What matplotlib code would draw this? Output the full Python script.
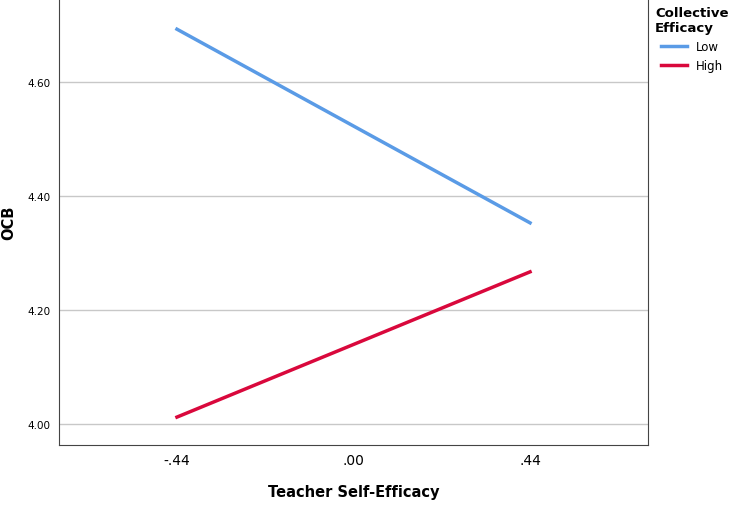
import matplotlib
matplotlib.use("Agg")
import matplotlib.pyplot as plt

x_vals = [-0.44, 0.44]
x_labels = ["-.44", ".00", ".44"]
low = [4.693, 4.353]
high = [4.012, 4.267]
y_ticks = [4.00, 4.20, 4.40, 4.60]

fig = plt.figure(figsize=(7.34, 5.06), dpi=100)
ax = fig.add_axes([59/734, 60/506, (648-59)/734, 446/506])
ax.plot(x_vals, low, color="#5a9be6", lw=2.5, label="Low")
ax.plot(x_vals, high, color="#d9083c", lw=2.5, label="High")
ax.set_xlim(-0.734, 0.734)
ax.set_ylim(3.963, 4.746)
ax.set_xticks([-0.44, 0, 0.44])
ax.set_xticklabels(x_labels, fontsize=10)
ax.set_yticks(y_ticks)
ax.set_yticklabels([f"{v:.2f}" for v in y_ticks], fontsize=7.5)
ax.grid(axis="y", color="#c8c8c8", lw=1)
ax.set_axisbelow(True)
ax.spines["top"].set_visible(False)
for s in ["left", "bottom", "right"]:
    ax.spines[s].set_color("#444444")
ax.tick_params(length=0, pad=6)
ax.set_xlabel("Teacher Self-Efficacy", fontsize=10.5, fontweight="bold", labelpad=12)
ax.set_ylabel("OCB", fontsize=10.5, fontweight="bold", labelpad=8)
leg = ax.legend(loc="upper left", bbox_to_anchor=(1.0, 1.0), frameon=False,
                title="Collective\nEfficacy", fontsize=8.5, handlelength=2.2,
                borderaxespad=0.2)
leg.get_title().set_fontweight("bold")
leg.get_title().set_fontsize(9.5)
fig.savefig("out.png", dpi=100)
